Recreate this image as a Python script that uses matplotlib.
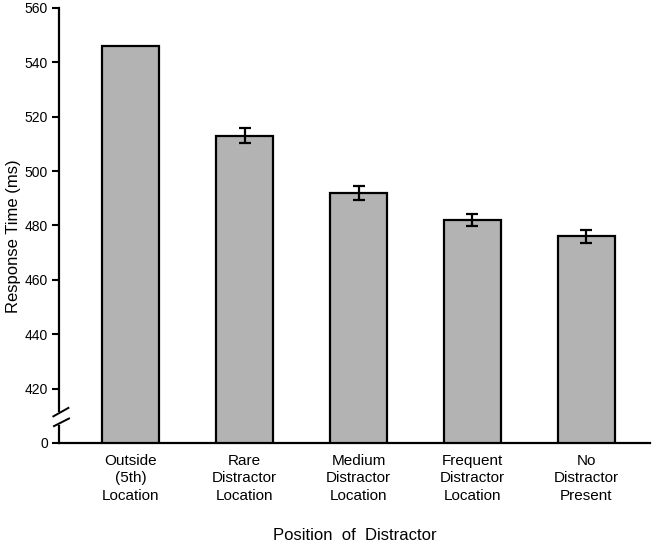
import matplotlib
matplotlib.use("Agg")
import matplotlib.pyplot as plt
import matplotlib.transforms as mtransforms
import numpy as np

plt.rcParams['font.family'] = ['Liberation Sans', 'DejaVu Sans']

# data
conditions = ["Outside\n(5th)\nLocation", "Rare\nDistractor\nLocation",
              "Medium\nDistractor\nLocation", "Frequent\nDistractor\nLocation",
              "No\nDistractor\nPresent"]
rt_ms = [546, 513, 492, 482, 476]
sem_ms = [0, 2.8, 2.5, 2.3, 2.5]
ytick_vals = [400, 420, 440, 460, 480, 500, 520, 540, 560]
ytick_labels = ["0", "420", "440", "460", "480", "500", "520", "540", "560"]

fig = plt.figure(figsize=(6.52, 5.44), dpi=100)
ax = fig.add_axes([0.0905, 0.1857, 0.9065, 0.7996])

x = np.arange(len(rt_ms))
ax.bar(x, rt_ms, width=0.5, color="#b3b3b3", edgecolor="black", linewidth=1.6, zorder=2)

# no error bar on the first bar
ax.errorbar(x[1:], rt_ms[1:], yerr=sem_ms[1:], fmt="none", ecolor="black",
            elinewidth=1.6, capsize=4.5, capthick=1.6, zorder=3)

ax.set_xlim(-0.63, 4.56)
ax.set_ylim(400, 560)
ax.set_yticks(ytick_vals)
ax.set_yticklabels(ytick_labels, fontsize=10)
ax.set_xticks(x)
ax.set_xticklabels(conditions, fontsize=11, linespacing=1.3)
ax.tick_params(axis="x", length=0, pad=8)
ax.tick_params(axis="y", length=5, width=1.5, direction="out", pad=3)

for s in ["top", "right"]:
    ax.spines[s].set_visible(False)
ax.spines["bottom"].set_linewidth(1.6)
ax.spines["left"].set_linewidth(1.6)

# broken y axis: upper piece, lower piece, two slashes
ax.spines["left"].set_bounds(411.7, 560)
trans = mtransforms.blended_transform_factory(ax.transAxes, ax.transData)
ax.plot([0, 0], [400, 406.2], color="black", lw=1.6, transform=trans, clip_on=False)
dx = 15 / 591
ax.plot([-0.0095, -0.0095 + dx], [409.8, 412.9], color="black", lw=1.4,
        transform=trans, clip_on=False)
ax.plot([-0.0085, -0.0085 + dx], [406.2, 409.0], color="black", lw=1.4,
        transform=trans, clip_on=False)

ax.set_ylabel("Response Time (ms)", fontsize=12)
ax.yaxis.set_label_coords(-0.065, 0.475)
ax.set_xlabel("Position  of  Distractor", fontsize=12, labelpad=18)

fig.savefig("out.png", dpi=100)
